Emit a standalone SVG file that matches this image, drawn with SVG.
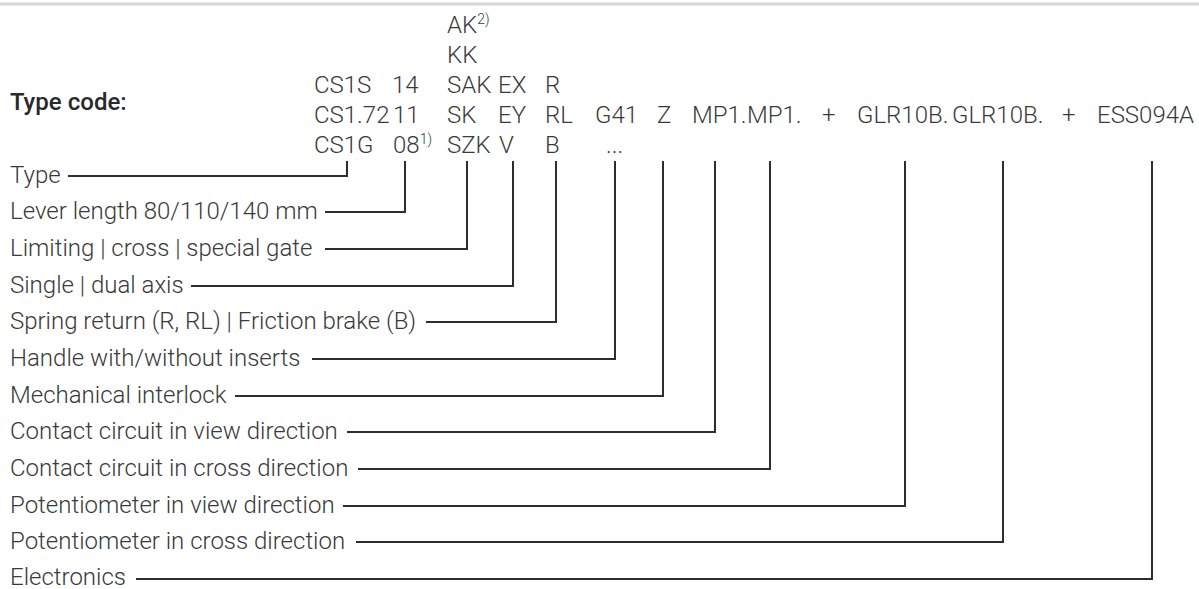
<svg xmlns="http://www.w3.org/2000/svg" width="1199" height="589" viewBox="0 0 1199 589">
<style>
  text { font-family: "Roboto Light", Roboto, "Liberation Sans", sans-serif; font-size: 24px; font-weight: 300; fill: #3a3a3a; }
  .title { font-family: "Roboto Medium", Roboto, "Liberation Sans", sans-serif; font-weight: 500; fill: #2a2a2a; }
  .sup { font-size: 14px; }
  .conn { fill: none; stroke: #2e2e2e; stroke-width: 2; }
  .rule { stroke: #d6d6d0; stroke-width: 3; }
</style>
<rect width="1199" height="589" fill="#ffffff"/>
<line class="rule" x1="0" y1="4" x2="1199" y2="4"/>
<g id="title"><text class="title" x="10" y="110">Type code:</text></g>

<g id="code-type">
  <text x="314" y="93">CS1S</text>
  <text x="314" y="123">CS1.72</text>
  <text x="314" y="153">CS1G</text>
</g>
<g id="code-lever">
  <text x="392" y="93">14</text>
  <text x="393" y="123">11</text>
  <text x="393" y="153">08<tspan class="sup" dy="-9">1)</tspan></text>
</g>
<g id="code-gate">
  <text x="447" y="33">AK<tspan class="sup" dy="-9">2)</tspan></text>
  <text x="447" y="63">KK</text>
  <text x="447" y="93">SAK</text>
  <text x="447" y="123">SK</text>
  <text x="447" y="153">SZK</text>
</g>
<g id="code-axis">
  <text x="498" y="93">EX</text>
  <text x="498" y="123">EY</text>
  <text x="499" y="153">V</text>
</g>
<g id="code-return">
  <text x="545" y="93">R</text>
  <text x="545" y="123">RL</text>
  <text x="545" y="153">B</text>
</g>
<g id="code-handle">
  <text x="595" y="123">G41</text>
  <text x="606" y="153">...</text>
</g>
<g id="code-interlock"><text x="657" y="123">Z</text></g>
<g id="code-contact-view"><text x="692" y="123">MP1.</text></g>
<g id="code-contact-cross"><text x="747" y="123">MP1.</text></g>
<g id="code-plus1"><text x="822" y="123">+</text></g>
<g id="code-pot-view"><text x="857" y="123">GLR10B.</text></g>
<g id="code-pot-cross"><text x="952" y="123">GLR10B.</text></g>
<g id="code-plus2"><text x="1062" y="123">+</text></g>
<g id="code-electronics"><text x="1097" y="123">ESS094A</text></g>

<g id="label-type"><text x="10" y="183">Type</text></g>
<g id="label-lever"><text x="10" y="219">Lever length 80/110/140 mm</text></g>
<g id="label-gate"><text x="10" y="256">Limiting | cross | special gate</text></g>
<g id="label-axis"><text x="10" y="293">Single | dual axis</text></g>
<g id="label-return"><text x="10" y="329">Spring return (R, RL) | Friction brake (B)</text></g>
<g id="label-handle"><text x="10" y="366">Handle with/without inserts</text></g>
<g id="label-interlock"><text x="10" y="403">Mechanical interlock</text></g>
<g id="label-contact-view"><text x="10" y="439">Contact circuit in view direction</text></g>
<g id="label-contact-cross"><text x="10" y="476">Contact circuit in cross direction</text></g>
<g id="label-pot-view"><text x="10" y="513">Potentiometer in view direction</text></g>
<g id="label-pot-cross"><text x="10" y="549">Potentiometer in cross direction</text></g>
<g id="label-electronics"><text x="10" y="585">Electronics</text></g>

<g id="connectors">
  <path class="conn" d="M68 176 H347 V161"/>
  <path class="conn" d="M325 212 H405 V161"/>
  <path class="conn" d="M325 249 H467 V161"/>
  <path class="conn" d="M191 286 H513 V161"/>
  <path class="conn" d="M426 322 H556 V161"/>
  <path class="conn" d="M312 359 H615 V161"/>
  <path class="conn" d="M235 396 H663 V161"/>
  <path class="conn" d="M347 432 H715 V161"/>
  <path class="conn" d="M358 469 H770 V161"/>
  <path class="conn" d="M343 506 H905 V161"/>
  <path class="conn" d="M356 542 H1003 V161"/>
  <path class="conn" d="M136 579 H1152 V161"/>
</g>
</svg>
